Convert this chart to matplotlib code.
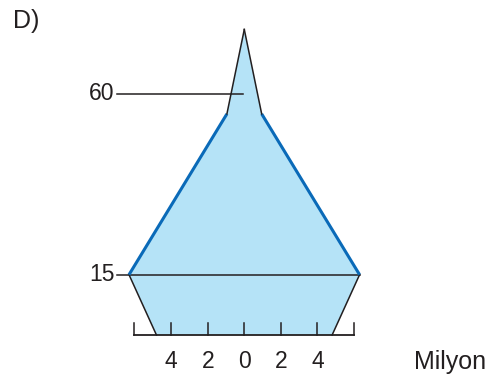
import numpy as np
import matplotlib
matplotlib.use("Agg")
import matplotlib.pyplot as plt

plt.rcParams['font.family'] = ['Liberation Sans', 'DejaVu Sans']

# Population pyramid outline (age, half width in millions)
ages = [0, 15, 55, 76]
half_width = [4.8, 6.3, 0.95, 0]

# Axis labels
y_ticks = [15, 60]
x_ticks = [-6, -4, -2, 0, 2, 4, 6]
x_tick_labels = ["", "4", "2", "0", "2", "4", ""]
unit_label = "Milyon"
panel_label = "D)"

dark = "#231f20"
blue = "#0a6ab8"
fill = "#b5e3f7"

fig = plt.figure(figsize=(4.97, 3.74), dpi=100)
ax = fig.add_axes([0, 0, 1, 1])
ax.set_xlim(-13.35, 13.81)
ax.set_ylim(-9.70, 83.33)
ax.axis("off")

xs = np.array(half_width)
ys = np.array(ages)
px = np.concatenate([-xs, xs[::-1][1:]])
py = np.concatenate([ys, ys[::-1][1:]])
ax.fill(px, py, color=fill, lw=0, zorder=1)

# sides: black below 15, blue 15-55, black above 55
for s in (-1, 1):
    ax.plot(s * xs[0:2], ys[0:2], color=dark, lw=1.1, zorder=3)
    ax.plot(s * xs[1:3], ys[1:3], color=blue, lw=2.2, zorder=3,
            solid_capstyle="butt")
    ax.plot(s * xs[2:4], ys[2:4], color=dark, lw=1.1, zorder=3)

# horizontal reference lines
ax.plot([-6.96, xs[1]], [y_ticks[0], y_ticks[0]], color=dark, lw=1.1, zorder=2)
ax.plot([-6.96, -0.09], [y_ticks[1], y_ticks[1]], color=dark, lw=1.1, zorder=2)
for v in y_ticks:
    ax.text(-7.1, v, str(v), ha="right", va="center", fontsize=16.5, color=dark)

# x axis
ax.plot([x_ticks[0], x_ticks[-1]], [0, 0], color=dark, lw=1.3, zorder=4)
for t, lab in zip(x_ticks, x_tick_labels):
    ax.plot([t, t], [0, 3], color=dark, lw=1.1, zorder=4)
    ax.text(t, -6.6, lab, ha="center", va="center", fontsize=16.5, color=dark)

ax.text(9.3, -6.6, unit_label, ha="left", va="center", fontsize=18, color=dark)
ax.text(-12.64, 78.0, panel_label, ha="left", va="center", fontsize=18, color=dark)

fig.savefig("out.png", dpi=100)
